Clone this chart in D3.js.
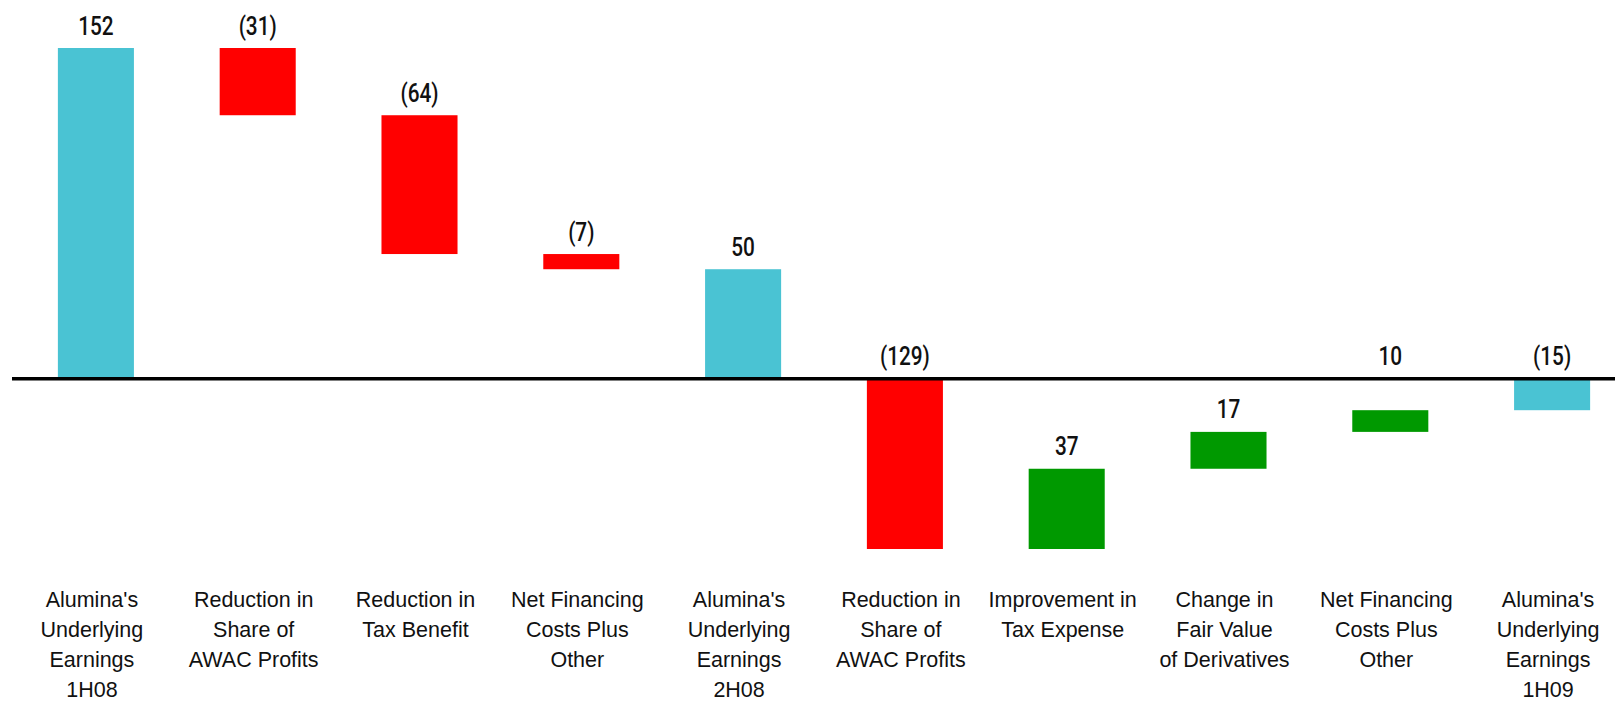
<!doctype html>
<html>
  <head>
    <meta charset="utf-8">
    <script src="https://cdnjs.cloudflare.com/ajax/libs/d3/7.8.5/d3.min.js"></script>
    <style>
      body { margin: 0; background: white; }
      svg { background: white; display: block; }
      .val { font-family: Roboto, "Liberation Sans", sans-serif; font-size: 26px; font-weight: 500; fill: #111; }
      .cat { font-family: "Liberation Sans", Arial, sans-serif; font-size: 21.5px; fill: #111; }
    </style>
  </head>
  <body>
    <svg id="chart" width="1615" height="703"></svg>
    <script>
      // waterfall: Alumina underlying earnings 1H08 -> 2H08 -> 1H09
      const categories = [
        ["Alumina's", "Underlying", "Earnings", "1H08"],
        ["Reduction in", "Share of", "AWAC Profits"],
        ["Reduction in", "Tax Benefit"],
        ["Net Financing", "Costs Plus", "Other"],
        ["Alumina's", "Underlying", "Earnings", "2H08"],
        ["Reduction in", "Share of", "AWAC Profits"],
        ["Improvement in", "Tax Expense"],
        ["Change in", "Fair Value", "of Derivatives"],
        ["Net Financing", "Costs Plus", "Other"],
        ["Alumina's", "Underlying", "Earnings", "1H09"]
      ];
      const values = [152, -31, -64, -7, 50, -129, 37, 17, 10, -15];
      const kinds = ["total", "step", "step", "step", "total", "step", "step", "step", "step", "total"];

      const colors = { total: "#4ac3d3", down: "#ff0000", up: "#009900" };

      // running start/end for each bar; a step crossing zero is only drawn on the far side
      let run = 0;
      const bars = values.map((v, i) => {
        let b;
        if (kinds[i] === "total") { b = { start: 0, end: v }; run = v; }
        else { b = { start: run, end: run + v }; run += v; }
        if (b.start * b.end < 0) b.start = 0;
        b.i = i;
        b.value = v;
        b.kind = kinds[i];
        return b;
      });

      const svg = d3.select("#chart");
      const idx = d3.range(values.length);

      const x = d3.scaleBand().domain(idx).range([15, 1633]).paddingInner(0.53).paddingOuter(0.265);
      const y = d3.scaleLinear()
        .domain([d3.min(bars, b => Math.min(b.start, b.end)), d3.max(bars, b => Math.max(b.start, b.end))])
        .range([549, 48]);

      const fillOf = b => b.kind === "total" ? colors.total : (b.value < 0 ? colors.down : colors.up);

      svg.selectAll("rect.bar")
        .data(bars)
        .enter()
        .append("rect")
        .attr("class", "bar")
        .attr("x", b => x(b.i))
        .attr("y", b => y(Math.max(b.start, b.end)))
        .attr("width", x.bandwidth())
        .attr("height", b => Math.abs(y(b.start) - y(b.end)))
        .style("fill", fillOf);

      // zero line
      const y0 = y(0) + 1;
      svg.append("line")
        .attr("x1", 12).attr("x2", 1615)
        .attr("y1", y0).attr("y2", y0)
        .style("stroke", "#000")
        .style("stroke-width", 3.5);

      const fmt = v => v < 0 ? "(" + Math.abs(v) + ")" : String(v);

      const labelY = b => {
        const top = y(Math.max(b.start, b.end));
        let ly = top - 13.5;
        if (top >= y0 - 2 && ly - 19 < y0 + 4) ly = y0 - 14;
        return ly;
      };

      // condensed look for value labels
      svg.selectAll("g.val")
        .data(bars)
        .enter()
        .append("g")
        .attr("transform", b => "translate(" + (x(b.i) + x.bandwidth() / 2) + "," + labelY(b) + ") scale(0.8,1)")
        .append("text")
        .attr("class", "val")
        .attr("text-anchor", "middle")
        .text(b => fmt(b.value));

      // category labels
      const catG = svg.selectAll("text.cat")
        .data(categories)
        .enter()
        .append("text")
        .attr("class", "cat")
        .attr("text-anchor", "middle")
        .attr("x", (d, i) => x(i) + x.bandwidth() / 2 - 4)
        .attr("y", 607);

      catG.selectAll("tspan")
        .data(d => d)
        .enter()
        .append("tspan")
        .attr("x", function () { return d3.select(this.parentNode).attr("x"); })
        .attr("dy", (d, j) => j === 0 ? 0 : 30)
        .text(d => d);
    </script>
  </body>
</html>
